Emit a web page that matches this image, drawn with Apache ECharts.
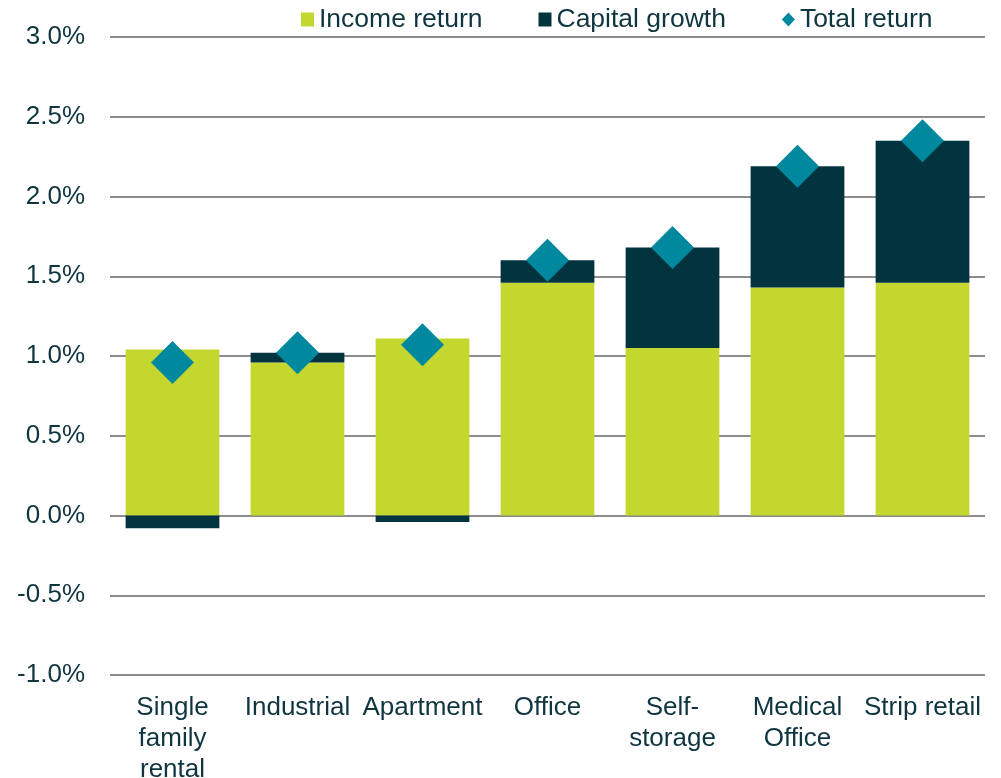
<!DOCTYPE html>
<html>
<head>
<meta charset="utf-8">
<script src="https://cdn.jsdelivr.net/npm/echarts@6/dist/echarts.min.js"></script>
<style>
  html, body { margin: 0; padding: 0; background: #fff; }
  #chart { width: 1001px; height: 778px; }
</style>
</head>
<body>
<div id="chart"></div>
<script>
// sector returns, % per quarter
const categories = ['Single\nfamily\nrental', 'Industrial', 'Apartment', 'Office', 'Self-\nstorage', 'Medical\nOffice', 'Strip retail']
const incomeReturn = [1.04, 0.96, 1.11, 1.46, 1.05, 1.43, 1.46]
const capitalGrowth = [-0.08, 0.06, -0.04, 0.14, 0.63, 0.76, 0.89]
const totalReturn = [0.96, 1.02, 1.07, 1.60, 1.68, 2.19, 2.35]

const textColor = '#0f3540'
const font = 'Liberation Sans, Arial, sans-serif'

const chart = echarts.init(document.getElementById('chart'))
chart.setOption({
  animation: false,
  textStyle: { fontFamily: font },
  legend: {
    left: 296,
    top: 1,
    itemWidth: 13,
    itemHeight: 14,
    itemGap: 56,
    textStyle: { fontSize: 26.5, color: textColor, fontFamily: font },
    data: [
      { name: 'Income return', icon: 'rect' },
      { name: 'Capital growth', icon: 'rect' },
      { name: 'Total return', icon: 'diamond' }
    ]
  },
  grid: {
    left: 110,
    right: 16,
    top: 37,
    bottom: 103,
    outerBoundsMode: 'none'
  },
  xAxis: {
    type: 'category',
    data: categories,
    axisLine: { show: false },
    axisTick: { show: false },
    axisLabel: {
      interval: 0,
      margin: 17,
      fontSize: 26,
      lineHeight: 31,
      color: textColor,
      fontFamily: font
    }
  },
  yAxis: {
    type: 'value',
    min: -1,
    max: 3,
    interval: 0.5,
    axisLine: { show: false },
    axisTick: { show: false },
    axisLabel: {
      margin: 25,
      fontSize: 26,
      color: textColor,
      fontFamily: font,
      formatter: v => v.toFixed(1) + '%'
    },
    splitLine: { lineStyle: { color: '#8c8c8c', width: 2 } }
  },
  series: [
    {
      name: 'Income return',
      type: 'bar',
      stack: 'ret',
      barCategoryGap: '25%',
      itemStyle: { color: '#c4d72f' },
      data: incomeReturn
    },
    {
      name: 'Capital growth',
      type: 'bar',
      stack: 'ret',
      itemStyle: { color: '#023440' },
      data: capitalGrowth
    },
    {
      name: 'Total return',
      type: 'scatter',
      symbol: 'diamond',
      symbolSize: 43,
      itemStyle: { color: '#00889e', opacity: 1 },
      z: 5,
      data: totalReturn
    }
  ]
})
</script>
</body>
</html>
